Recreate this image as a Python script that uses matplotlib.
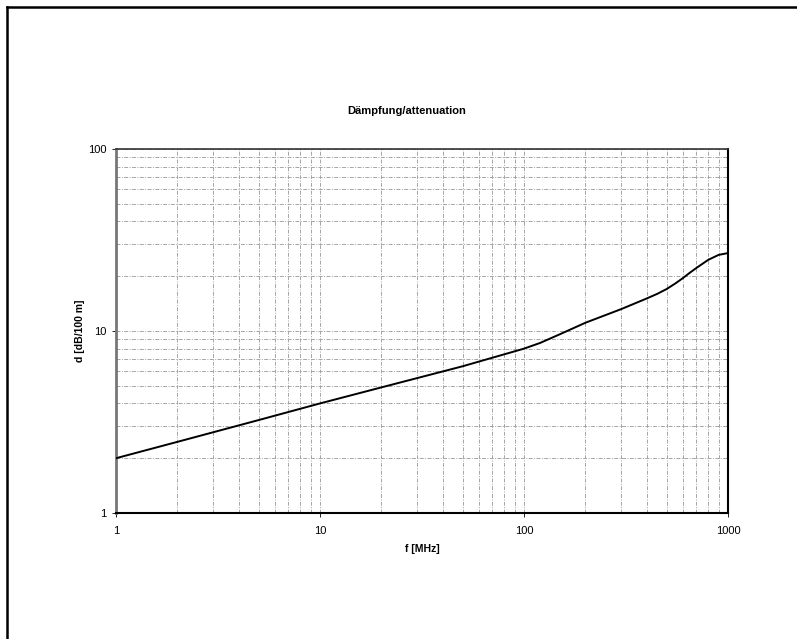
import matplotlib
matplotlib.use("Agg")
import matplotlib.pyplot as plt
from matplotlib.lines import Line2D
from matplotlib.ticker import LogLocator, FixedLocator, FixedFormatter, NullFormatter
import numpy as np

plt.rcParams['font.family'] = ['Liberation Sans', 'DejaVu Sans']

freq_mhz = [1, 2, 5, 10, 20, 50, 100, 120, 150, 200, 300, 400, 450, 500, 550, 600, 650, 700, 800, 900, 1000]
atten_db = [2.0, 2.46, 3.24, 4.0, 4.9, 6.4, 8.0, 8.6, 9.6, 11.1, 13.2, 15.1, 16.0, 17.0, 18.2, 19.5, 20.9, 22.2, 24.6, 26.2, 26.8]

x_ticks = [1, 10, 100, 1000]
x_labels = ['1', '10', '100', '1000']
y_ticks = [1, 10, 100]
y_labels = ['1', '10', '100']

W, H = 797, 639
fig = plt.figure(figsize=(W / 100, H / 100), dpi=100)
ax = fig.add_axes([116 / W, 1 - 513 / H, (728 - 116) / W, (513 - 149) / H])

ax.set_xscale('log')
ax.set_yscale('log')
ax.set_xlim(1, 1000)
ax.set_ylim(1, 100)

ax.plot(freq_mhz, atten_db, color='black', lw=1.4, zorder=5)

ax.xaxis.set_major_locator(FixedLocator(x_ticks))
ax.xaxis.set_major_formatter(FixedFormatter(x_labels))
ax.yaxis.set_major_locator(FixedLocator(y_ticks))
ax.yaxis.set_major_formatter(FixedFormatter(y_labels))
ax.xaxis.set_minor_locator(LogLocator(base=10, subs=np.arange(2, 10)))
ax.yaxis.set_minor_locator(LogLocator(base=10, subs=np.arange(2, 10)))
ax.xaxis.set_minor_formatter(NullFormatter())
ax.yaxis.set_minor_formatter(NullFormatter())

grid_style = dict(color='#a5a5a5', linestyle=(0, (4, 1.5, 1, 1.5)), lw=0.7)
ax.grid(True, which='both', axis='both', **grid_style)

ax.tick_params(axis='both', which='major', length=3, width=0.6, labelsize=8, pad=4)
ax.tick_params(axis='x', which='major', pad=6)
ax.tick_params(axis='y', which='minor', length=0)
ax.tick_params(axis='x', which='minor', length=0)

ax.spines['left'].set_color('#777777')
ax.spines['left'].set_linewidth(2.0)
ax.spines['bottom'].set_color('black')
ax.spines['bottom'].set_linewidth(1.5)
ax.spines['top'].set_color('#333333')
ax.spines['top'].set_linewidth(1.2)
ax.spines['right'].set_color('black')
ax.spines['right'].set_linewidth(1.5)

ax.set_xlabel('f [MHz]', fontsize=7.5, fontweight='bold', labelpad=6)
ax.set_ylabel('d [dB/100 m]', fontsize=7.5, fontweight='bold', labelpad=2)
fig.text(407 / W, 1 - 111 / H, 'Dämpfung/attenuation', ha='center', va='center',
         fontsize=8, fontweight='bold')

# Partial page frame (left and top edges)
fig.add_artist(Line2D([7 / W, 7 / W], [0, 1 - 7 / H], transform=fig.transFigure, color='black', lw=1.8))
fig.add_artist(Line2D([7 / W, 1], [1 - 7 / H, 1 - 7 / H], transform=fig.transFigure, color='black', lw=1.8))

fig.savefig('out.png', dpi=100, facecolor='white')
